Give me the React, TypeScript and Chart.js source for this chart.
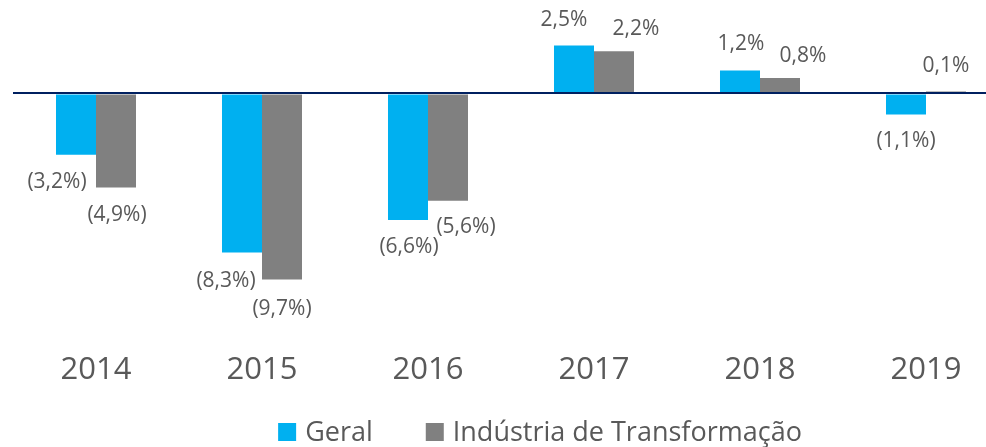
import React, { useEffect, useRef } from "react";
import { Chart, registerables } from "chart.js";

Chart.register(...registerables);

// ---- data ----
const categories = ["2014", "2015", "2016", "2017", "2018", "2019"];
const geral = [-3.2, -8.3, -6.6, 2.5, 1.2, -1.1];
const industria = [-4.9, -9.7, -5.6, 2.2, 0.8, 0.1];
const seriesNames = ["Geral", "Indústria de Transformação"];

// ---- styling / layout (not data) ----
const COLORS = ["#00B0F0", "#808080"];
const TEXT_COLOR = "#595959";
const FONT = "'Open Sans', 'Noto Sans', sans-serif";
// per-label offsets [dx, dy] relative to bar end
const labelOffsets = [
  [[-19, 27], [-16, 28], [1, 27], [-10, -25], [1, -26], [0, 27]],
  [[1, 28], [0, 30], [18, 26], [22, -22], [23, -22], [0, -25]],
];

const fmt = (v: number) => {
  const s = Math.abs(v).toFixed(1).replace(".", ",") + "%";
  return v < 0 ? `(${s})` : s;
};

const dataLabelPlugin = {
  id: "dataLabels",
  afterDatasetsDraw(chart: any) {
    const ctx = chart.ctx;
    ctx.save();
    ctx.font = `21px ${FONT}`;
    ctx.fillStyle = TEXT_COLOR;
    ctx.textAlign = "center";
    ctx.textBaseline = "middle";
    chart.data.datasets.forEach((ds: any, i: number) => {
      const meta = chart.getDatasetMeta(i);
      meta.data.forEach((el: any, j: number) => {
        const v = ds.data[j];
        const off = labelOffsets[i][j];
        ctx.fillText(fmt(v), el.x + off[0], el.y + off[1]);
      });
    });
    ctx.restore();
  },
};

const legendPlugin = {
  id: "customLegend",
  afterDraw(chart: any) {
    const ctx = chart.ctx;
    const centerX = 540;
    const centerY = 432;
    const box = 18;
    const gapBoxText = 9;
    const gapItems = 53;
    ctx.save();
    ctx.font = `27px ${FONT}`;
    ctx.textBaseline = "middle";
    ctx.textAlign = "left";
    const items = chart.data.datasets.map((ds: any) => ({
      label: ds.label,
      color: ds.backgroundColor,
      w: ctx.measureText(ds.label).width,
    }));
    let total = 0;
    items.forEach((it: any, k: number) => {
      total += box + gapBoxText + it.w + (k < items.length - 1 ? gapItems : 0);
    });
    let x = centerX - total / 2;
    items.forEach((it: any) => {
      ctx.fillStyle = it.color;
      ctx.fillRect(x, centerY - box / 2, box, box);
      x += box + gapBoxText;
      ctx.fillStyle = TEXT_COLOR;
      ctx.fillText(it.label, x, centerY + 1);
      x += it.w + gapItems;
    });
    ctx.restore();
  },
};

export default function App() {
  const ref = useRef<HTMLCanvasElement | null>(null);

  useEffect(() => {
    if (!ref.current) return;
    const chart = new Chart(ref.current, {
      type: "bar",
      data: {
        labels: categories,
        datasets: [
          {
            label: seriesNames[0],
            data: geral,
            backgroundColor: COLORS[0],
            categoryPercentage: 0.482,
            barPercentage: 1,
          },
          {
            label: seriesNames[1],
            data: industria,
            backgroundColor: COLORS[1],
            categoryPercentage: 0.482,
            barPercentage: 1,
          },
        ],
      },
      options: {
        animation: false,
        responsive: true,
        maintainAspectRatio: false,
        layout: { padding: { left: 13, right: 1, top: 0, bottom: 58 } },
        plugins: {
          legend: { display: false },
          tooltip: { enabled: false },
        },
        scales: {
          x: {
            grid: { display: false, drawTicks: false },
            border: { display: false },
            afterFit: (s: any) => {
              s.height = 75;
            },
            ticks: {
              color: TEXT_COLOR,
              font: { family: FONT, size: 31 },
              padding: 38,
              maxRotation: 0,
              autoSkip: false,
            },
          },
          y: {
            min: -11.5,
            max: 4.87,
            display: true,
            afterFit: (s: any) => {
              s.width = 0;
            },
            border: { display: false },
            ticks: { display: false, stepSize: 1 },
            grid: {
              z: 1,
              drawTicks: false,
              color: (c: any) => (c.tick && c.tick.value === 0 ? "#002060" : "rgba(0,0,0,0)"),
              lineWidth: (c: any) => (c.tick && c.tick.value === 0 ? 2 : 0),
            },
          },
        },
      },
      plugins: [dataLabelPlugin, legendPlugin],
    });
    return () => chart.destroy();
  }, []);

  return (
    <div
      style={{
        position: "absolute",
        left: 0,
        top: 0,
        width: 986,
        height: 447,
        overflow: "hidden",
        background: "#fff",
      }}
    >
      <div style={{ position: "relative", width: 1010, height: 447 }}>
        <canvas ref={ref} />
      </div>
    </div>
  );
}
